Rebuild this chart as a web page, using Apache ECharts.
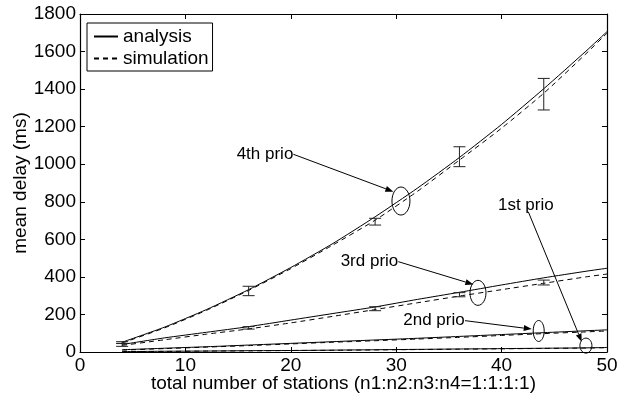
<!DOCTYPE html>
<html>
<head>
<meta charset="utf-8">
<script src="https://cdn.jsdelivr.net/npm/echarts@6/dist/echarts.min.js"></script>
<style>
  html, body { margin: 0; padding: 0; background: #fff; }
  #chart { width: 626px; height: 395px; }
</style>
</head>
<body>
<div id="chart"></div>
<script>
// Mean delay per priority class vs. total number of stations
const stations = [4, 8, 12, 16, 20, 24, 28, 32, 36, 40, 44, 48, 50];

const prio1Analysis   = [2, 4, 5, 7, 8, 10, 12, 14, 16, 18, 20, 22, 24];
const prio1Simulation = [2, 3, 5, 6, 8, 9, 11, 13, 15, 17, 19, 21, 23];

const prio2Analysis   = [12, 20, 28, 37, 46, 55, 64, 73, 83, 93, 103, 113, 118];
const prio2Simulation = [10, 18, 26, 34, 43, 52, 60, 69, 78, 88, 98, 107, 112];

const prio3Analysis   = [40, 75, 105, 135, 170, 205, 240, 280, 318, 357, 395, 430, 446];
const prio3Simulation = [35, 65, 95, 123, 155, 190, 226, 262, 298, 332, 366, 400, 415];

const prio4Analysis   = [52, 132, 226, 332, 450, 578, 720, 872, 1036, 1212, 1402, 1602, 1706];
const prio4Simulation = [48, 128, 222, 328, 444, 570, 702, 855, 1022, 1192, 1378, 1588, 1698];

// confidence intervals of the simulation runs
const errStations = [4, 16, 28, 36, 44];
const prio3ErrLow  = [30, 122, 220, 294, 357];
const prio3ErrHigh = [46, 135, 241, 316, 383];
const prio4ErrLow  = [45, 300, 676, 987, 1289];
const prio4ErrHigh = [55, 350, 712, 1093, 1457];

const xTicks = { min: 0, max: 50, interval: 10 };
const yTicks = { min: 0, max: 1800, interval: 200 };

const prioLabels = ['1st prio', '2nd prio', '3rd prio', '4th prio'];

// callout layout for each priority label (data coordinates)
const callouts = [
  { text: prioLabels[0], tx: 42.3, ty: 783, align: 'center', ax0: 42.53, ay0: 747, ax1: 47.6, ay1: 55, ex: 48.0, ey: 34, rx: 6, ry: 7.5 },
  { text: prioLabels[1], tx: 36.5, ty: 167, align: 'right', ax0: 36.53, ay0: 167, ax1: 42.86, ay1: 122, ex: 43.52, ey: 112, rx: 5.5, ry: 10.5 },
  { text: prioLabels[2], tx: 30.2, ty: 481, align: 'right', ax0: 30.2, ay0: 481, ax1: 37.32, ay1: 360, ex: 37.76, ey: 315, rx: 8, ry: 12.5 },
  { text: prioLabels[3], tx: 20.24, ty: 1053, align: 'right', ax0: 20.24, ay0: 1053, ax1: 29.73, ay1: 854, ex: 30.45, ey: 804, rx: 9, ry: 14 }
];

const FONT = "'Liberation Sans', Arial, Helvetica, sans-serif";
const pairs = (xs, ys) => xs.map((x, i) => [x, ys[i]]);
const triples = (xs, lo, hi) => xs.map((x, i) => [x, lo[i], hi[i]]);

function lineSeries(name, values, dashed) {
  return {
    name: name,
    type: 'line',
    data: pairs(stations, values),
    symbol: 'none',
    smooth: 0.2,
    silent: true,
    lineStyle: { color: '#000', width: 1, type: dashed ? [5, 4] : 'solid' },
    itemStyle: { color: '#000' },
    z: 3
  };
}

function errorSeries(lo, hi) {
  return {
    type: 'custom',
    data: triples(errStations, lo, hi),
    encode: { x: 0, y: [1, 2] },
    silent: true,
    z: 4,
    renderItem: function (params, api) {
      const x = api.value(0);
      const top = api.coord([x, api.value(2)]);
      const bot = api.coord([x, api.value(1)]);
      const w = 6;
      const st = { stroke: '#222', lineWidth: 1 };
      return {
        type: 'group',
        children: [
          { type: 'line', shape: { x1: top[0], y1: top[1], x2: bot[0], y2: bot[1] }, style: st },
          { type: 'line', shape: { x1: top[0] - w, y1: top[1], x2: top[0] + w, y2: top[1] }, style: st },
          { type: 'line', shape: { x1: bot[0] - w, y1: bot[1], x2: bot[0] + w, y2: bot[1] }, style: st }
        ]
      };
    }
  };
}

const calloutSeries = {
  type: 'custom',
  data: callouts.map((c, i) => [c.tx, c.ty, i]),
  silent: true,
  clip: false,
  z: 6,
  renderItem: function (params, api) {
    const c = callouts[api.value(2)];
    const t = api.coord([c.tx, c.ty]);
    const a0 = api.coord([c.ax0, c.ay0]);
    const a1 = api.coord([c.ax1, c.ay1]);
    const e = api.coord([c.ex, c.ey]);
    const dx = a1[0] - a0[0], dy = a1[1] - a0[1];
    const len = Math.sqrt(dx * dx + dy * dy);
    const ux = dx / len, uy = dy / len;
    const hl = 8, hw = 3;
    const bx = a1[0] - ux * hl, by = a1[1] - uy * hl;
    return {
      type: 'group',
      children: [
        {
          type: 'text',
          x: t[0], y: t[1],
          style: {
            text: c.text, fill: '#000', font: '17px ' + FONT,
            align: c.align, verticalAlign: 'middle'
          }
        },
        { type: 'line', shape: { x1: a0[0], y1: a0[1], x2: bx, y2: by }, style: { stroke: '#000', lineWidth: 1 } },
        {
          type: 'polygon',
          shape: { points: [[a1[0], a1[1]], [bx - uy * hw, by + ux * hw], [bx + uy * hw, by - ux * hw]] },
          style: { fill: '#000' }
        },
        {
          type: 'ellipse',
          shape: { cx: e[0], cy: e[1], rx: c.rx, ry: c.ry },
          style: { fill: null, stroke: '#000', lineWidth: 1 }
        }
      ]
    };
  }
};

const tickStyle = { inside: true, length: 5, lineStyle: { color: '#000', width: 1 } };
const axisLineStyle = { show: true, onZero: false, lineStyle: { color: '#000', width: 1.2 } };
const plainNumber = v => String(v);

const option = {
  animation: false,
  backgroundColor: '#fff',
  textStyle: { fontFamily: FONT },
  grid: { left: 80, right: 19, top: 14, bottom: 43, containLabel: false, outerBoundsMode: 'none' },
  legend: {
    data: ['analysis', 'simulation'],
    orient: 'vertical',
    left: 87, top: 23,
    padding: [4, 4, 3, 6],
    itemGap: 3,
    itemWidth: 24,
    itemHeight: 14,
    borderColor: '#000',
    borderWidth: 1,
    borderRadius: 0,
    backgroundColor: '#fff',
    selectedMode: false,
    itemStyle: { color: 'rgba(0,0,0,0)', borderColor: 'rgba(0,0,0,0)', borderWidth: 0 },
    textStyle: { fontSize: 19, color: '#000', fontFamily: FONT }
  },
  xAxis: [
    {
      type: 'value', position: 'bottom', ...xTicks,
      name: 'total number of stations (n1:n2:n3:n4=1:1:1:1)',
      nameLocation: 'middle', nameGap: 22, nameMoveOverlap: false,
      nameTextStyle: { fontSize: 19, color: '#000', fontFamily: FONT },
      axisLine: axisLineStyle, axisTick: tickStyle,
      axisLabel: { fontSize: 19, color: '#000', margin: 4, fontFamily: FONT, formatter: plainNumber },
      splitLine: { show: false }
    },
    {
      type: 'value', position: 'top', ...xTicks,
      axisLine: axisLineStyle, axisTick: tickStyle,
      axisLabel: { show: false }, splitLine: { show: false }
    }
  ],
  yAxis: [
    {
      type: 'value', position: 'left', ...yTicks,
      name: 'mean delay (ms)',
      nameLocation: 'middle', nameGap: 50, nameMoveOverlap: false,
      nameTextStyle: { fontSize: 19, color: '#000', fontFamily: FONT },
      axisLine: axisLineStyle, axisTick: tickStyle,
      axisLabel: { fontSize: 19, color: '#000', margin: 4, fontFamily: FONT, formatter: plainNumber },
      splitLine: { show: false }
    },
    {
      type: 'value', position: 'right', ...yTicks,
      axisLine: axisLineStyle, axisTick: tickStyle,
      axisLabel: { show: false }, splitLine: { show: false }
    }
  ],
  series: [
    lineSeries('analysis', prio4Analysis, false),
    lineSeries('simulation', prio4Simulation, true),
    lineSeries('analysis', prio3Analysis, false),
    lineSeries('simulation', prio3Simulation, true),
    lineSeries('analysis', prio2Analysis, false),
    lineSeries('simulation', prio2Simulation, true),
    lineSeries('analysis', prio1Analysis, false),
    lineSeries('simulation', prio1Simulation, true),
    errorSeries(prio4ErrLow, prio4ErrHigh),
    errorSeries(prio3ErrLow, prio3ErrHigh),
    calloutSeries
  ]
};

const chart = echarts.init(document.getElementById('chart'), null, { renderer: 'canvas' });
chart.setOption(option);
</script>
</body>
</html>
